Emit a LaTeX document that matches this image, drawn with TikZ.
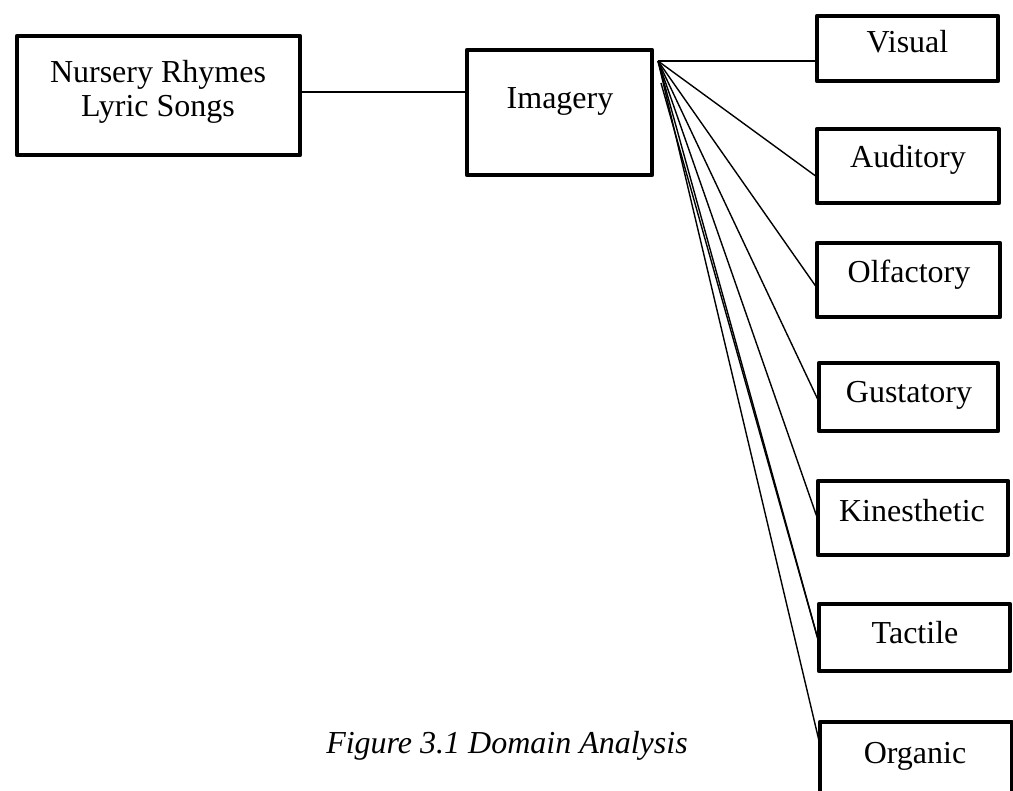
\documentclass[tikz,border=0pt]{standalone}
\usepackage{fontspec}
\setmainfont{Liberation Serif}
\begin{document}
\begin{tikzpicture}[x=1pt,y=-1pt,
  box/.style={draw=black,line width=4.5pt,rectangle,inner sep=0pt,outer sep=0pt,line join=round},
  lbl/.style={anchor=base,inner sep=0pt,font=\fontsize{32}{38}\selectfont},
  link/.style={draw=black,line width=1.4pt}]
\useasboundingbox (0,0) rectangle (1013,791);
\clip (0,0) rectangle (1013,791);
\fill[white] (0,0) rectangle (1013,791);
% boxes
\node[box,minimum width=283pt,minimum height=119pt] (nr)  at (158.5,95.5) {};
\node[box,minimum width=185pt,minimum height=125pt] (img) at (559.5,112.5) {};
\node[box,minimum width=181pt,minimum height=65pt]  (vis) at (907.5,48.5) {};
\node[box,minimum width=182pt,minimum height=74pt]  (aud) at (908,166) {};
\node[box,minimum width=183pt,minimum height=74pt]  (olf) at (908.5,280) {};
\node[box,minimum width=179pt,minimum height=68pt]  (gus) at (908.5,397) {};
\node[box,minimum width=190pt,minimum height=74pt]  (kin) at (913,518) {};
\node[box,minimum width=191pt,minimum height=67pt]  (tac) at (914.5,637.5) {};
\node[box,minimum width=192pt,minimum height=82pt]  (org) at (916,763) {};
% labels
\node[lbl] (nrA) at (158,83) {Nursery Rhymes};
\node[lbl] (nrB) at (158,117) {Lyric Songs};
\node[lbl] (imgT) at (560,109) {Imagery};
\node[lbl] (visT) at (907.5,53) {Visual};
\node[lbl] (audT) at (908,168) {Auditory};
\node[lbl] (olfT) at (909,283) {Olfactory};
\node[lbl] (gusT) at (909,403) {Gustatory};
\node[lbl] (kinT) at (912,522) {Kinesthetic};
\node[lbl] (tacT) at (915,643) {Tactile};
\node[lbl] (orgT) at (915,763) {Organic};
\node[lbl,font=\fontsize{32}{38}\selectfont\itshape] (cap) at (507,753) {Figure 3.1 Domain Analysis};
% connectors
\coordinate (j1) at ([yshift=3.5pt]nr.east);
\coordinate (fan) at (658,61);
\coordinate (fan2) at (661,83);
\path[link] (j1) -- (j1 -| img.west);
\path[link] (fan) -- (fan -| vis.west);
\path[link] (fan) -- ([yshift=-11pt]aud.west);
\path[link] (fan) -- ([yshift=-8pt]olf.west);
\path[link] (fan) -- ([yshift=-5pt]gus.west);
\path[link] (fan) -- ([yshift=-2pt]kin.west);
\path[link] (fan) -- ([yshift=-5.5pt]tac.west);
\path[link] (fan2) -- ([yshift=-5.5pt]tac.west);
\path[link] (fan) -- ([yshift=18pt]org.west);
\end{tikzpicture}
\end{document}
